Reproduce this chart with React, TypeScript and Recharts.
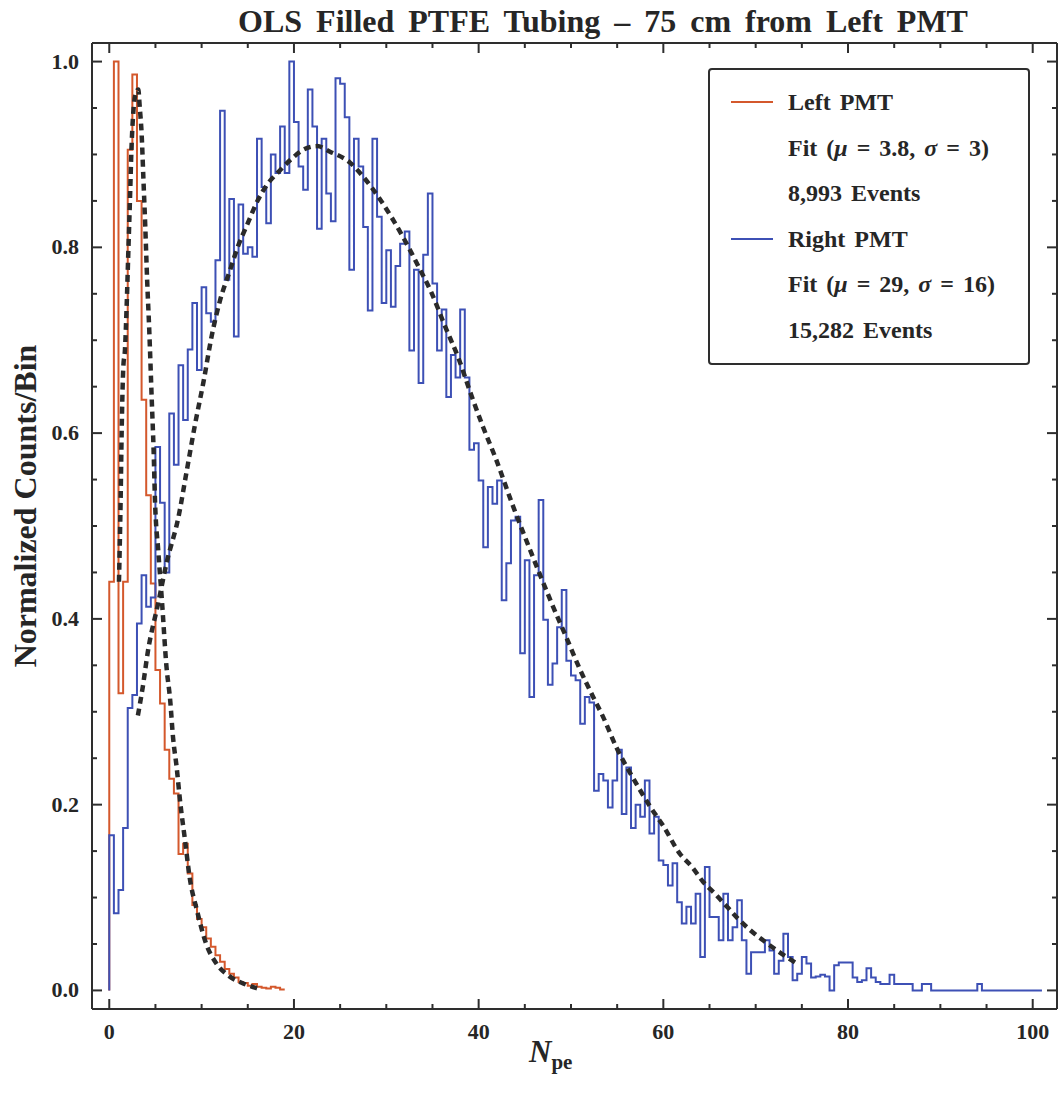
import React from 'react';
import { LineChart, Line, XAxis, YAxis, Legend } from 'recharts';

// histogram bin width in N_pe
const BIN = 0.5;

// Left PMT, normalized counts per bin, bins start at 0
const leftPmtCounts = [
  0.44, 1.0, 0.32, 0.44, 0.905, 0.986, 0.85, 0.636, 0.533, 0.438,
  0.345, 0.309, 0.259, 0.228, 0.212, 0.147, 0.158, 0.126, 0.092, 0.077,
  0.068, 0.056, 0.047, 0.038, 0.031, 0.023, 0.018, 0.014, 0.009, 0.008,
  0.005, 0.007, 0.004, 0.003, 0.002, 0.004, 0.003, 0.001,
];

// Right PMT, normalized counts per bin, bins start at 0
const rightPmtCounts = [
  0.167, 0.083, 0.108, 0.175, 0.304, 0.318, 0.395, 0.447, 0.413, 0.423,
  0.585, 0.525, 0.45, 0.621, 0.566, 0.673, 0.614, 0.69, 0.74, 0.668,
  0.757, 0.729, 0.72, 0.786, 0.947, 0.765, 0.852, 0.704, 0.846, 0.793,
  0.8, 0.79, 0.917, 0.865, 0.826, 0.9, 0.88, 0.93, 0.88, 1.0,
  0.935, 0.887, 0.862, 0.97, 0.93, 0.82, 0.917, 0.858, 0.828, 0.982,
  0.976, 0.94, 0.776, 0.917, 0.887, 0.822, 0.732, 0.917, 0.833, 0.74,
  0.797, 0.736, 0.78, 0.804, 0.817, 0.689, 0.776, 0.654, 0.792, 0.858,
  0.761, 0.689, 0.733, 0.639, 0.684, 0.66, 0.733, 0.66, 0.582, 0.589,
  0.549, 0.477, 0.542, 0.524, 0.549, 0.42, 0.46, 0.506, 0.51, 0.363,
  0.463, 0.316, 0.447, 0.528, 0.399, 0.329, 0.352, 0.391, 0.431, 0.355,
  0.339, 0.334, 0.287, 0.316, 0.31, 0.215, 0.233, 0.226, 0.197, 0.226,
  0.259, 0.19, 0.24, 0.175, 0.2, 0.187, 0.226, 0.169, 0.187, 0.14,
  0.135, 0.113, 0.137, 0.095, 0.072, 0.09, 0.072, 0.104, 0.036, 0.133,
  0.079, 0.079, 0.054, 0.104, 0.054, 0.068, 0.097, 0.054, 0.018, 0.041,
  0.041, 0.041, 0.054, 0.043, 0.018, 0.032, 0.061, 0.036, 0.011, 0.018,
  0.036, 0.029, 0.014, 0.015, 0.017, 0.015, 0.0, 0.027, 0.03, 0.03,
  0.03, 0.014, 0.009, 0.011, 0.024, 0.014, 0.009, 0.007, 0.007, 0.017,
  0.007, 0.007, 0.007, 0.007, 0.0, 0.0, 0.007, 0.007, 0.0, 0.0,
  0.0, 0.0, 0.0, 0.0, 0.0, 0.0, 0.0, 0.0, 0.007, 0.0,
  0.0, 0.0, 0.0, 0.0, 0.0, 0.0, 0.0, 0.0, 0.0, 0.0,
  0.0, 0.0,
];

// fitted curves
const leftFitX = [1.05, 1.23, 1.34, 1.52, 1.7, 1.88, 2.06, 2.24, 2.4, 2.6, 2.85, 3.14, 3.3, 3.5, 3.7, 3.9, 4.1, 4.33, 4.6, 4.8, 4.95, 5.3, 5.7, 6.2, 6.6, 6.9, 7.3, 7.7, 8.2, 8.7, 9.5, 10.5, 11.6, 12.9, 14.5, 16.1];
const leftFitY = [0.44, 0.528, 0.6, 0.671, 0.69, 0.736, 0.794, 0.851, 0.905, 0.945, 0.965, 0.97, 0.951, 0.923, 0.873, 0.822, 0.765, 0.711, 0.636, 0.582, 0.528, 0.474, 0.42, 0.348, 0.312, 0.273, 0.24, 0.201, 0.162, 0.122, 0.086, 0.05, 0.029, 0.016, 0.0075, 0.002];

const rightFitX = [3.1, 3.6, 4.2, 5.3, 6.2, 7.5, 8.4, 9.3, 10.2, 11.1, 12.0, 13.1, 13.9, 15.0, 16.1, 17.2, 18.3, 19.6, 21.0, 22.5, 23.9, 26.1, 27.5, 29.5, 31.7, 33.4, 34.9, 36.4, 37.8, 39.2, 40.5, 41.8, 43.7, 45.7, 47.9, 49.5, 51.0, 52.4, 53.5, 54.9, 56.7, 58.7, 60.0, 61.8, 63.1, 64.3, 65.6, 66.9, 68.1, 69.4, 70.8, 72.6, 74.3];
const rightFitY = [0.296, 0.325, 0.366, 0.417, 0.46, 0.51, 0.56, 0.61, 0.655, 0.705, 0.743, 0.776, 0.8, 0.826, 0.851, 0.869, 0.881, 0.894, 0.905, 0.909, 0.903, 0.891, 0.876, 0.849, 0.813, 0.781, 0.751, 0.714, 0.681, 0.641, 0.606, 0.574, 0.522, 0.471, 0.417, 0.38, 0.345, 0.316, 0.294, 0.262, 0.229, 0.196, 0.177, 0.147, 0.133, 0.117, 0.104, 0.09, 0.077, 0.065, 0.054, 0.041, 0.03];

const xTicks = [0, 5, 10, 15, 20, 25, 30, 35, 40, 45, 50, 55, 60, 65, 70, 75, 80, 85, 90, 95, 100];
const yTicks = Array.from({ length: 21 }, (_, i) => i / 20);

const ORANGE = '#d4582c';
const BLUE = '#3d50b5';
const FRAME = '#2e2e2e';
const TEXT = '#262626';
const SERIF = '"Liberation Serif", "Times New Roman", serif';

function toSteps(counts: number[]) {
  const pts = [{ x: 0, y: 0 }];
  counts.forEach((c, i) => pts.push({ x: i * BIN, y: c }));
  pts.push({ x: counts.length * BIN, y: counts[counts.length - 1] });
  return pts;
}

const toPoints = (xs: number[], ys: number[]) => xs.map((x, i) => ({ x, y: ys[i] }));

const leftSteps = toSteps(leftPmtCounts);
const rightSteps = toSteps(rightPmtCounts);
const leftFit = toPoints(leftFitX, leftFitY);
const rightFit = toPoints(rightFitX, rightFitY);

const isMajorX = (v: number) => v % 20 === 0;
const isMajorY = (v: number) => Math.round(v * 20) % 4 === 0;

// ticks point into the frame, like Mathematica
function makeTick(side: 'bottom' | 'top' | 'left' | 'right') {
  return (props: any) => {
    const { x, y, payload } = props;
    const v = payload.value as number;
    const horiz = side === 'bottom' || side === 'top';
    const major = horiz ? isMajorX(v) : isMajorY(v);
    const len = major ? 10 : 5;
    let line;
    if (side === 'bottom') line = <line x1={x} x2={x} y1={y} y2={y - len} />;
    else if (side === 'top') line = <line x1={x} x2={x} y1={y} y2={y + len} />;
    else if (side === 'left') line = <line x1={x} x2={x + len} y1={y} y2={y} />;
    else line = <line x1={x} x2={x - len} y1={y} y2={y} />;
    return (
      <g stroke={FRAME} strokeWidth={2}>
        {line}
        {major && side === 'bottom' && (
          <text x={x} y={y + 30} textAnchor="middle" fill={TEXT} stroke="none"
            fontFamily={SERIF} fontWeight="bold" fontSize={22}>{v}</text>
        )}
        {major && side === 'left' && (
          <text x={x - 13} y={y + 7} textAnchor="end" fill={TEXT} stroke="none"
            fontFamily={SERIF} fontWeight="bold" fontSize={22}>{v.toFixed(1)}</text>
        )}
      </g>
    );
  };
}

const legendRows = [
  { color: ORANGE, text: <>Left PMT</> },
  { color: null, text: <>Fit (<i>μ</i> = 3.8, <i>σ</i> = 3)</> },
  { color: null, text: <>8,993 Events</> },
  { color: BLUE, text: <>Right PMT</> },
  { color: null, text: <>Fit (<i>μ</i> = 29, <i>σ</i> = 16)</> },
  { color: null, text: <>15,282 Events</> },
];

function LegendBox() {
  return (
    <div style={{
      position: 'relative', width: 318, height: 293, border: `2px solid ${FRAME}`,
      borderRadius: 4, background: '#fff', fontFamily: SERIF, fontWeight: 'bold',
      fontSize: 24, color: TEXT,
    }}>
      {legendRows.map((r, i) => (
        <div key={i} style={{ position: 'absolute', left: 0, top: 10 + i * 45.6, height: 45, width: '100%' }}>
          {r.color && (
            <div style={{ position: 'absolute', left: 21, top: 21, width: 42, height: 2, background: r.color }} />
          )}
          <div style={{ position: 'absolute', left: 78, top: 0, lineHeight: '45px', whiteSpace: 'nowrap', wordSpacing: 3 }}>{r.text}</div>
        </div>
      ))}
    </div>
  );
}

export default function App() {
  return (
    <div style={{ position: 'absolute', left: 0, top: 0, width: 1058, height: 1093, background: '#fff' }}>
      <div style={{
        position: 'absolute', left: 0, top: 3, width: 1206, textAlign: 'center', fontFamily: SERIF,
        fontWeight: 'bold', fontSize: 32, color: TEXT, whiteSpace: 'nowrap', wordSpacing: 6,
      }}>
        OLS Filled PTFE Tubing – 75 cm from Left PMT
      </div>
      <div style={{
        position: 'absolute', left: 25, top: 506, transform: 'translate(-50%, -50%) rotate(-90deg)',
        fontFamily: SERIF, fontWeight: 'bold', fontSize: 32, color: TEXT, whiteSpace: 'nowrap',
      }}>
        Normalized Counts/Bin
      </div>
      <div style={{
        position: 'absolute', left: 529, top: 1034, fontFamily: SERIF, fontWeight: 'bold',
        fontSize: 31, color: TEXT, whiteSpace: 'nowrap',
      }}>
        <i>N</i><sub style={{ fontSize: 21 }}>pe</sub>
      </div>
      <LineChart width={1058} height={1093} margin={{ top: 0, right: 0, bottom: 0, left: 0 }}>
        <XAxis xAxisId="b" dataKey="x" type="number" domain={[-1.87, 102.63]} allowDataOverflow
          ticks={xTicks} interval={0} height={84} orientation="bottom" tickSize={0} tickMargin={0}
          tickLine={false} axisLine={{ stroke: FRAME, strokeWidth: 2 }} tick={makeTick('bottom')} />
        <XAxis xAxisId="t" dataKey="x" type="number" domain={[-1.87, 102.63]} allowDataOverflow
          ticks={xTicks} interval={0} height={43} orientation="top" tickSize={0} tickMargin={0}
          tickLine={false} axisLine={{ stroke: FRAME, strokeWidth: 2 }} tick={makeTick('top')} />
        <YAxis yAxisId="l" type="number" domain={[-0.02, 1.02]} allowDataOverflow ticks={yTicks}
          interval={0} width={92} orientation="left" tickSize={0} tickMargin={0} tickLine={false}
          axisLine={{ stroke: FRAME, strokeWidth: 2 }} tick={makeTick('left')} />
        <YAxis yAxisId="r" type="number" domain={[-0.02, 1.02]} allowDataOverflow ticks={yTicks}
          interval={0} width={1} orientation="right" tickSize={0} tickMargin={0} tickLine={false}
          axisLine={{ stroke: FRAME, strokeWidth: 2 }} tick={makeTick('right')} />
        <Legend layout="horizontal" align="center" verticalAlign="middle"
          wrapperStyle={{ position: 'absolute', left: 708, top: 68, width: 322, height: 297 }}
          content={() => <LegendBox />} />
        <Line xAxisId="b" yAxisId="l" data={leftSteps} dataKey="y" type="stepAfter" stroke={ORANGE}
          strokeWidth={2} dot={false} isAnimationActive={false} name="Left PMT" />
        <Line xAxisId="b" yAxisId="l" data={rightSteps} dataKey="y" type="stepAfter" stroke={BLUE}
          strokeWidth={2} dot={false} isAnimationActive={false} name="Right PMT" />
        <Line xAxisId="b" yAxisId="l" data={leftFit} dataKey="y" type="monotone" stroke="#2a2a2a"
          strokeWidth={4.5} strokeDasharray="7 5" dot={false} isAnimationActive={false} name="Left fit" />
        <Line xAxisId="b" yAxisId="l" data={rightFit} dataKey="y" type="monotone" stroke="#2a2a2a"
          strokeWidth={4.5} strokeDasharray="7 5" dot={false} isAnimationActive={false} name="Right fit" />
      </LineChart>
    </div>
  );
}
